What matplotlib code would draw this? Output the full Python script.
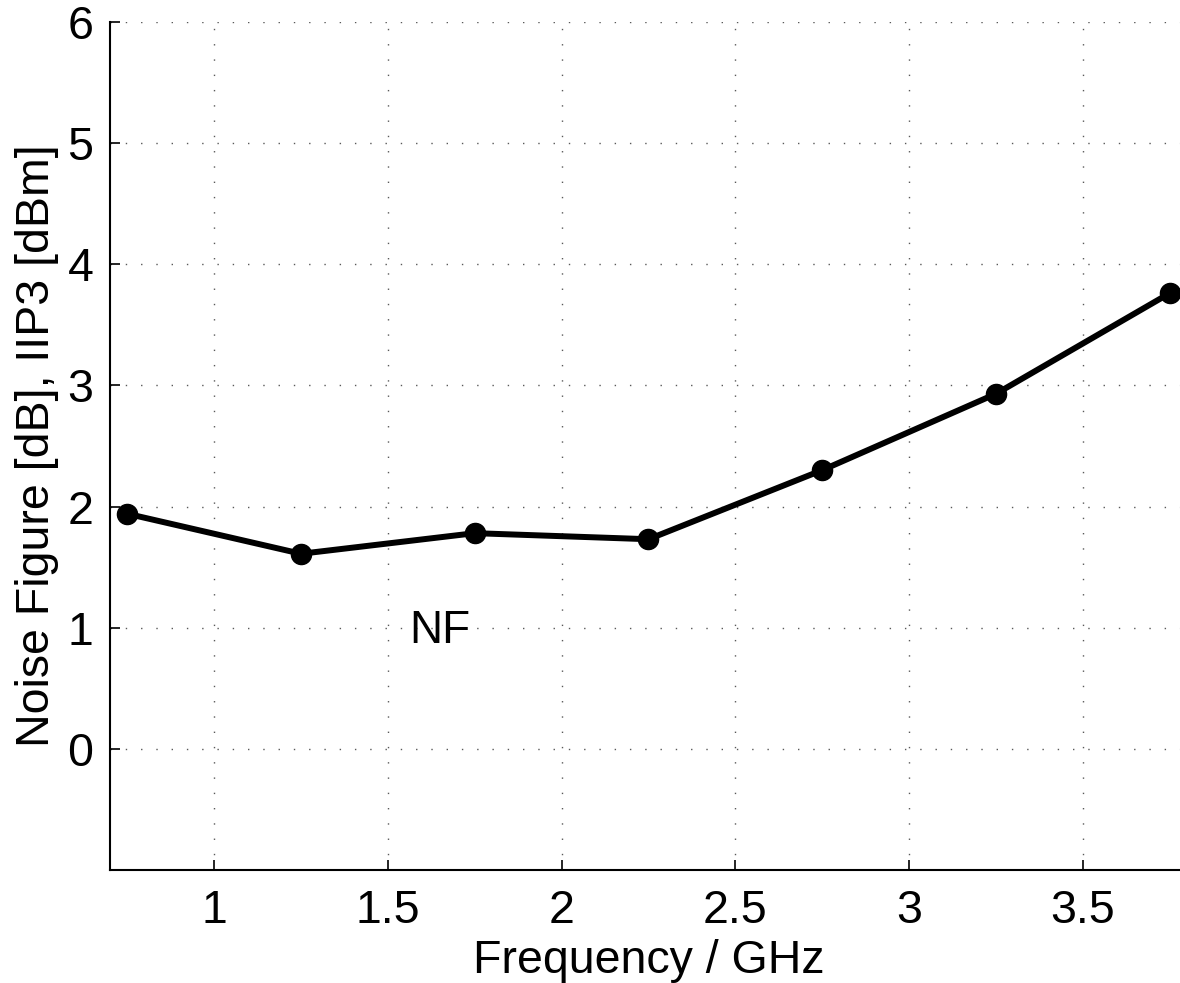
import numpy as np
import matplotlib
matplotlib.use("Agg")
import matplotlib.pyplot as plt

# NF vs frequency
Array_Freq = [0.75, 1.25, 1.75, 2.25, 2.75, 3.25, 3.75]
Array_NF = [1.94, 1.61, 1.78, 1.73, 2.30, 2.93, 3.76]
List_XTicks = [1, 1.5, 2, 2.5, 3, 3.5]
List_YTicks = [0, 1, 2, 3, 4, 5, 6]

matplotlib.rcParams.update({'font.size': 33.5, 'font.family': ['Liberation Sans', 'DejaVu Sans']})

fig = plt.figure(figsize=(11.8, 9.83), dpi=100)
ax = fig.add_axes([0.0932, 0.115, 0.9127, 0.8627])

ax.plot(Array_Freq, Array_NF, 'k-', linewidth=4.3, marker='o', markersize=14.5, clip_on=False, zorder=3)
ax.text(1.56, 0.97, "NF", fontsize=33, va='center', ha='left')

ax.set_xlim(0.7, 3.8)
ax.set_ylim(-1, 6)
ax.set_xticks(List_XTicks)
ax.set_xticklabels(["1", "1.5", "2", "2.5", "3", "3.5"])
ax.set_yticks(List_YTicks)

ax.spines['top'].set_visible(False)
ax.spines['right'].set_visible(False)
ax.spines['left'].set_linewidth(1.5)
ax.spines['bottom'].set_linewidth(1.5)
ax.tick_params(direction='in', length=7, width=1.2, pad=12)
ax.tick_params(axis='x', pad=14)

ax.grid(True, linestyle=(0, (1, 10)), color='0.35', linewidth=1.0)

ax.set_xlabel("Frequency / GHz", labelpad=4)
ax.set_ylabel("Noise Figure [dB], IIP3 [dBm]", labelpad=6)

fig.savefig("out.png", dpi=100)
